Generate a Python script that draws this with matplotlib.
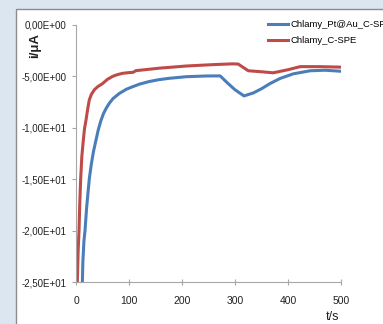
import matplotlib
matplotlib.use("Agg")
import matplotlib.pyplot as plt
from matplotlib.patches import Rectangle

plt.rcParams['font.family'] = ['Liberation Sans', 'DejaVu Sans']

# time (s) and current (uA)
t_pt = [12, 13, 15, 17, 20, 25, 29, 33, 37.7, 42, 47, 52, 57, 63, 70, 82, 95, 107, 120, 138, 155, 175,
        208, 245, 272, 285, 300, 317, 335, 350, 366, 385, 410, 442, 470, 500]
i_pt = [-25.0, -23.0, -21.0, -20.0, -17.8, -15.0, -13.5, -12.3, -11.2, -10.2, -9.3, -8.6, -8.1, -7.6,
        -7.15, -6.65, -6.25, -6.0, -5.75, -5.5, -5.33, -5.19, -5.03, -4.96, -4.95, -5.6, -6.3, -6.9, -6.6,
        -6.2, -5.7, -5.2, -4.75, -4.45, -4.4, -4.5]

t_c = [2.5, 4, 5.7, 7, 8.8, 11, 13.8, 16, 18.9, 22, 25, 29, 34.6, 41, 50, 59, 69, 78, 88, 100, 108, 113,
       130, 157, 208, 245, 270, 296, 306, 325, 350, 372, 400, 423, 460, 500]
i_c = [-25.0, -22.0, -20.0, -17.5, -15.0, -12.8, -11.2, -10.1, -9.24, -8.2, -7.3, -6.75, -6.3, -6.0,
       -5.7, -5.3, -5.0, -4.83, -4.7, -4.63, -4.6, -4.44, -4.35, -4.2, -3.99, -3.89, -3.83, -3.78, -3.8,
       -4.45, -4.55, -4.65, -4.35, -4.05, -4.05, -4.1]

y_ticks = [0, -5, -10, -15, -20, -25]
y_labels = ['0,00E+00', '-5,00E+00', '-1,00E+01', '-1,50E+01', '-2,00E+01', '-2,50E+01']
x_ticks = [0, 100, 200, 300, 400, 500]

W, H = 383, 324
fig = plt.figure(figsize=(W / 100, H / 100), dpi=100)
fig.patch.set_facecolor('#dce6f1')
panel = Rectangle((16 / W, -0.1), 1.2, 1 - 9 / H + 0.1, transform=fig.transFigure,
                  facecolor='white', edgecolor='#8c8c8c', linewidth=1.0, zorder=-10)
fig.patches.append(panel)

ax = fig.add_axes([76 / W, 1 - 282 / H, (341 - 76) / W, (282 - 25) / H])
ax.set_facecolor('none')

ax.plot(t_pt, i_pt, color='#4a7ebb', lw=2.2, label='Chlamy_Pt@Au_C-SPE')
ax.plot(t_c, i_c, color='#be4b48', lw=2.2, label='Chlamy_C-SPE')

ax.set_xlim(0, 500)
ax.set_ylim(-25, 0)
ax.set_xticks(x_ticks)
ax.set_yticks(y_ticks)
ax.set_yticklabels(y_labels)

for s in ['top', 'right']:
    ax.spines[s].set_visible(False)
for s in ['left', 'bottom']:
    ax.spines[s].set_color('#a6a6a6')
    ax.spines[s].set_linewidth(0.8)
ax.tick_params(axis='y', direction='out', length=3, width=0.8, color='#a6a6a6', pad=4,
               labelsize=7, labelcolor='#222222')
ax.tick_params(axis='x', direction='inout', length=4, width=0.8, color='#a6a6a6', pad=8,
               labelsize=7.5, labelcolor='#222222')

fig.text(35 / W, 1 - 46 / H, 'i/μA', rotation=90, ha='center', va='center',
         fontsize=9.5, fontweight='bold', color='#222222')
fig.text(333 / W, 1 - 317 / H, 't/s', ha='center', va='center', fontsize=9, color='#222222')

ax.legend(loc='upper left', bbox_to_anchor=(268 / W, 1 - 20 / H), bbox_transform=fig.transFigure,
          frameon=False, fontsize=6.8, handlelength=2.1, handletextpad=0.3, labelspacing=0.75,
          borderpad=0, borderaxespad=0)

fig.savefig('out.png', dpi=100)
